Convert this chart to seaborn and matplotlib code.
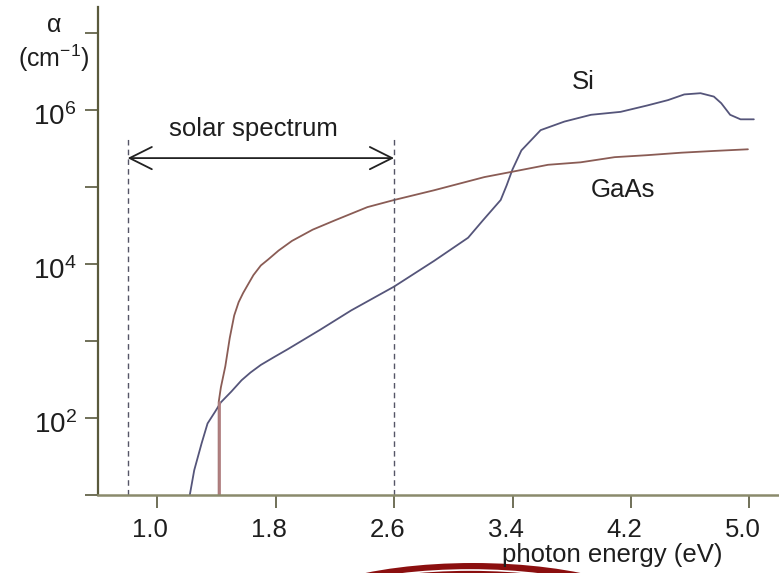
import numpy as np
import pandas as pd
import matplotlib
matplotlib.use("Agg")
import matplotlib.pyplot as plt
import matplotlib.patches as mpatches
import matplotlib.transforms as mtransforms
import seaborn as sns

# ---- data ----
si_energy = [1.22, 1.25, 1.30, 1.34, 1.39, 1.43, 1.50, 1.57, 1.63, 1.70, 1.79, 1.88, 2.10, 2.31,
             2.60, 2.87, 3.10, 3.20, 3.32, 3.36, 3.40, 3.46, 3.59, 3.75, 3.93, 4.13,
             4.31, 4.45, 4.56, 4.67, 4.76, 4.81, 4.87, 4.94, 5.03]
si_alpha = [1.0e1, 2.1e1, 4.7e1, 8.5e1, 1.2e2, 1.6e2, 2.2e2, 3.1e2, 3.9e2, 4.9e2, 6.2e2, 7.8e2,
            1.4e3, 2.5e3,
            5.1e3, 1.1e4, 2.2e4, 3.7e4, 6.8e4, 1.05e5, 1.7e5, 3.0e5, 5.5e5, 7.1e5, 8.7e5, 9.5e5,
            1.15e6, 1.35e6, 1.6e6, 1.66e6, 1.5e6, 1.23e6, 8.7e5, 7.6e5, 7.6e5]

gaas_energy = [1.415, 1.415, 1.43, 1.46, 1.49, 1.52, 1.55, 1.58, 1.61, 1.65, 1.70, 1.75, 1.82,
               1.91, 2.05, 2.20, 2.42, 2.60, 2.87, 3.21, 3.41, 3.64, 3.86, 4.09, 4.31,
               4.54, 4.76, 4.99]
gaas_alpha = [1.0e1, 1.6e2, 2.5e2, 4.7e2, 1.1e3, 2.15e3, 3.2e3, 4.2e3, 5.3e3, 7.2e3, 9.6e3,
              1.15e4, 1.5e4,
              2.0e4, 2.8e4, 3.7e4, 5.5e4, 6.8e4, 9.1e4, 1.35e5, 1.6e5, 1.95e5, 2.1e5, 2.45e5, 2.6e5,
              2.8e5, 2.95e5, 3.1e5]

x_ticks = [1.0, 1.8, 2.6, 3.4, 4.2, 5.0]
x_tick_labels = ["1.0", "1.8", "2.6", "3.4", "4.2", "5.0"]
y_ticks = [1e1, 1e2, 1e3, 1e4, 1e5, 1e6, 1e7]
y_tick_labels = ["", r"$\mathregular{10^2}$", "", r"$\mathregular{10^4}$", "",
                 r"$\mathregular{10^6}$", ""]
solar_range = [0.80, 2.60]

si_df = pd.DataFrame({"energy": si_energy, "alpha": si_alpha})
gaas_df = pd.DataFrame({"energy": gaas_energy, "alpha": gaas_alpha})

# ---- style ----
sns.set_style("white")
plt.rcParams["font.family"] = ["Liberation Sans", "DejaVu Sans"]
plt.rcParams["mathtext.default"] = "regular"

W, H = 779, 573
fig = plt.figure(figsize=(W / 100, H / 100), dpi=100)
ax = fig.add_axes([98 / W, 78 / H, 1 - 98 / W, (495 - 7) / H])

axis_col = "#5a5a3c"
tick_col = "#707058"
si_col = "#55557a"
gaas_col = "#8a5c55"
txt_col = "#1e1e1e"

sns.lineplot(data=si_df, x="energy", y="alpha", ax=ax, color=si_col, lw=1.3,
             sort=False, estimator=None)
sns.lineplot(data=gaas_df, x="energy", y="alpha", ax=ax, color=gaas_col, lw=1.3,
             sort=False, estimator=None)
# thicker, pinkish absorption edge of GaAs
sns.lineplot(x=gaas_energy[:2], y=gaas_alpha[:2], ax=ax, color="#b07f80", lw=2.0,
             sort=False, estimator=None)

ax.set_yscale("log")
ax.set_xlim(0.6, 5.2)
ax.set_ylim(1e1, 10 ** 7.34)
ax.set_xlabel("")
ax.set_ylabel("")

ax.set_xticks(x_ticks)
ax.set_xticklabels(x_tick_labels)
ax.set_yticks(y_ticks)
ax.set_yticklabels(y_tick_labels)
ax.minorticks_off()
ax.tick_params(axis="both", which="major", direction="out", length=9.4, width=1.4,
               colors=tick_col, labelcolor=txt_col, left=True, bottom=True)
ax.tick_params(axis="x", pad=7, labelsize=18.5)
ax.tick_params(axis="y", pad=6, labelsize=20)

# small label offsets seen in the reference
for lab in ax.get_xticklabels():
    lab.set_transform(lab.get_transform() +
                      mtransforms.ScaledTranslation(-7 / 100, 0, fig.dpi_scale_trans))
for lab in ax.get_yticklabels():
    lab.set_transform(lab.get_transform() +
                      mtransforms.ScaledTranslation(0, -4 / 100, fig.dpi_scale_trans))

for side in ["top", "right"]:
    ax.spines[side].set_visible(False)
ax.spines["left"].set_color(axis_col)
ax.spines["left"].set_linewidth(1.6)
ax.spines["bottom"].set_color("#8a8a6c")
ax.spines["bottom"].set_linewidth(1.8)

# solar spectrum markers
dash_top = 10 ** 5.64
for xv in solar_range:
    ax.plot([xv, xv], [1e1, dash_top], color="#555566", lw=1.0, ls=(0, (4, 3)))
ax.annotate("", xy=(solar_range[0], 10 ** 5.377), xytext=(solar_range[1], 10 ** 5.377),
            arrowprops=dict(arrowstyle="<->,head_length=0.8,head_width=0.4",
                            mutation_scale=20, color="#222222", lw=1.3,
                            shrinkA=0, shrinkB=0))
ax.text(1.649, 10 ** 5.753, "solar spectrum", ha="center", va="center",
        fontsize=18.5, color=txt_col)
ax.text(3.881, 10 ** 6.364, "Si", ha="center", va="center", fontsize=18.5, color=txt_col)
ax.text(4.144, 10 ** 4.961, "GaAs", ha="center", va="center", fontsize=18.5, color=txt_col)

# axis titles
fig.text(54 / W, 1 - 25 / H, "α", ha="center", va="center", fontsize=18, color=txt_col)
fig.text(54 / W, 1 - 58 / H, r"(cm$^{-1}$)", ha="center", va="center", fontsize=18,
         color=txt_col)
fig.text(612 / W, 1 - 562 / H, "photon energy (eV)", ha="center", va="baseline",
         fontsize=18.5, color=txt_col)

# decorative dark-red arc at the bottom
ident = mtransforms.IdentityTransform()
outer = mpatches.Ellipse((473, -50), 390, 120, facecolor="#8b0f0f", edgecolor="none",
                         transform=ident, clip_on=False)
inner = mpatches.Ellipse((470, -52), 370, 110, facecolor="none", edgecolor="white",
                         lw=1.2, transform=ident, clip_on=False)
fig.add_artist(outer)
fig.add_artist(inner)

fig.savefig("out.png", dpi=100)
